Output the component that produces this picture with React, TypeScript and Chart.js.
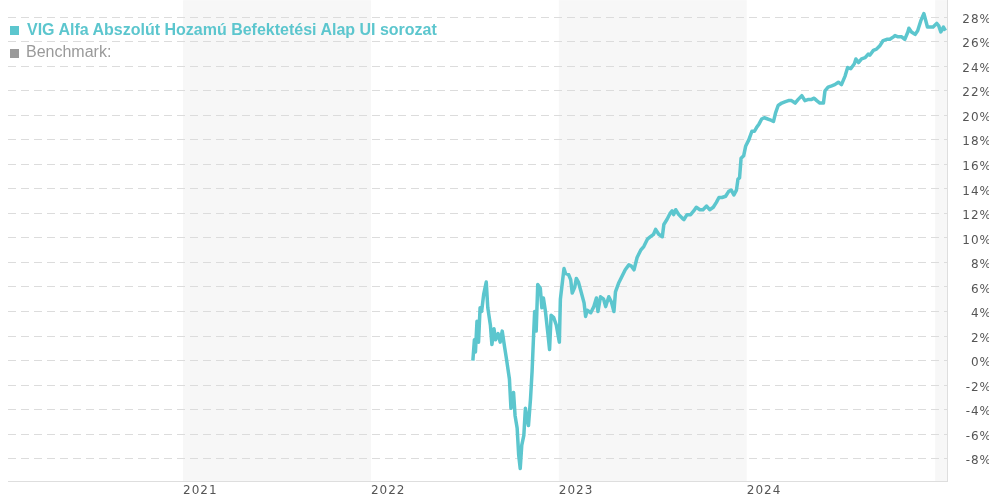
import React, { useEffect, useRef } from 'react';
import { Chart, registerables } from 'chart.js';

Chart.register(...registerables);

const FUND_LABEL = 'VIG Alfa Abszolút Hozamú Befektetési Alap UI sorozat';
const BENCHMARK_LABEL = 'Benchmark:';

const dates = [
  '2022-07-18','2022-07-21','2022-07-23','2022-07-26','2022-07-29','2022-08-01','2022-08-04','2022-08-08','2022-08-13','2022-08-16',
  '2022-08-21','2022-08-24','2022-08-28','2022-08-31','2022-09-05','2022-09-09','2022-09-13','2022-09-18','2022-09-21','2022-09-27',
  '2022-09-30','2022-10-05','2022-10-08','2022-10-12','2022-10-15','2022-10-18','2022-10-21','2022-10-25','2022-10-28','2022-10-31',
  '2022-11-03','2022-11-07','2022-11-10','2022-11-13','2022-11-15','2022-11-18','2022-11-21','2022-11-26','2022-11-29','2022-12-02',
  '2022-12-06','2022-12-11','2022-12-14','2022-12-17','2022-12-22','2022-12-27','2023-01-02',
  '2023-01-04','2023-01-11','2023-01-14','2023-01-20','2023-01-24','2023-01-27','2023-02-01','2023-02-04','2023-02-08','2023-02-12',
  '2023-02-19','2023-02-22','2023-02-25','2023-03-04','2023-03-10','2023-03-15','2023-03-18','2023-03-23','2023-03-29','2023-04-02',
  '2023-04-08','2023-04-13','2023-04-18','2023-04-21','2023-04-27','2023-05-04','2023-05-10','2023-05-17','2023-05-22','2023-05-27',
  '2023-06-02','2023-06-09','2023-06-15','2023-06-22','2023-06-28','2023-07-04','2023-07-08','2023-07-14','2023-07-21','2023-07-24',
  '2023-07-30','2023-08-05','2023-08-09','2023-08-12','2023-08-16','2023-08-22','2023-08-29','2023-09-01','2023-09-07','2023-09-14',
  '2023-09-20','2023-09-25','2023-10-02','2023-10-08','2023-10-15','2023-10-21','2023-10-28','2023-11-03','2023-11-08','2023-11-14',
  '2023-11-21','2023-11-27','2023-12-02','2023-12-07','2023-12-12','2023-12-15','2023-12-18','2023-12-21','2023-12-26','2023-12-30',
  '2024-01-05','2024-01-11','2024-01-16','2024-01-20','2024-01-25','2024-01-30','2024-02-04','2024-02-11','2024-02-17','2024-02-22',
  '2024-02-26','2024-03-02','2024-03-09','2024-03-15','2024-03-22','2024-03-28','2024-04-04','2024-04-10','2024-04-17','2024-04-23',
  '2024-04-30','2024-05-06','2024-05-11','2024-05-16','2024-05-22','2024-05-29','2024-06-01','2024-06-07','2024-06-14','2024-06-20',
  '2024-06-27','2024-07-03','2024-07-10','2024-07-15','2024-07-21','2024-07-28','2024-07-31','2024-08-05','2024-08-11','2024-08-18',
  '2024-08-24','2024-08-27','2024-09-03','2024-09-09','2024-09-16','2024-09-22','2024-09-29','2024-10-05','2024-10-12','2024-10-15',
  '2024-10-21','2024-10-28','2024-11-03','2024-11-09','2024-11-11','2024-11-16','2024-11-23','2024-11-28','2024-12-04','2024-12-10',
  '2024-12-12','2024-12-17','2024-12-22','2024-12-28','2025-01-04','2025-01-08','2025-01-12','2025-01-17','2025-01-21',
];

const fundReturns = [
  0.0, 1.7, 0.7, 3.2, 1.5, 4.3, 4.0, 5.4, 6.4, 4.3,
  2.9, 1.3, 2.6, 1.7, 2.2, 1.5, 2.4, 1.0, 0.2, -1.5,
  -3.9, -2.6, -4.5, -5.5, -7.7, -8.8, -6.9, -6.1, -3.9, -4.7,
  -5.3, -3.1, -0.9, 2.1, 4.0, 2.4, 6.2, 5.9, 4.3, 5.1,
  4.0, 2.1, 0.9, 3.7, 3.5, 2.9, 1.5,
  5.0, 7.5, 7.1, 7.0, 6.6, 5.5, 6.0, 6.7, 6.4, 5.8,
  4.7, 3.6, 4.1, 3.9, 4.4, 5.1, 4.0, 5.2, 5.0, 4.4,
  5.2, 4.8, 4.0, 5.6, 6.3, 6.9, 7.4, 7.8, 7.7, 7.4,
  8.4, 9.0, 9.3, 9.9, 10.1, 10.3, 10.7, 10.3, 10.1, 11.1,
  11.5, 12.0, 12.2, 11.9, 12.3, 11.9, 11.6, 11.5, 11.9, 11.9,
  12.2, 12.5, 12.3, 12.3, 12.6, 12.3, 12.5, 12.9, 13.3, 13.3,
  13.4, 13.8, 13.9, 13.5, 13.9, 14.8, 14.9, 16.5, 16.7, 17.5,
  18.0, 18.7, 18.7, 19.0, 19.3, 19.7, 19.8, 19.7, 19.6, 19.5,
  20.2, 20.8, 21.0, 21.1, 21.2, 21.2, 21.0, 21.3, 21.6, 21.2,
  21.3, 21.3, 21.4, 21.2, 21.0, 21.0, 22.0, 22.3, 22.4, 22.5,
  22.7, 22.5, 23.2, 23.9, 23.8, 24.2, 24.6, 24.3, 24.6, 24.7,
  25.0, 24.9, 25.3, 25.4, 25.7, 26.1, 26.2, 26.2, 26.4, 26.5,
  26.4, 26.4, 26.2, 26.8, 27.1, 26.8, 26.6, 26.9, 27.7, 28.3,
  28.0, 27.2, 27.2, 27.2, 27.5, 27.3, 26.8, 27.2, 26.9,
];

const yearTicks = [2021, 2022, 2023, 2024];
const shadedYears = [2021, 2023, 2025];
const yTicks = [-8, -6, -4, -2, 0, 2, 4, 6, 8, 10, 12, 14, 16, 18, 20, 22, 24, 26, 28];
const X_MIN_DATE = '2020-01-27';
const X_MAX_DATE = '2025-01-24';
const Y_MIN = -9.89;
const Y_MAX = 29.39;

const TEAL = '#5cc6ce';
const GRAY = '#9a9a9a';
const AXIS_FONT = '"DejaVu Sans", Verdana, sans-serif';
const LETTER_SPACING = '1px';

const toTs = (s: string) => Date.parse(s + 'T00:00:00Z');

const bandPlugin = {
  id: 'yearBands',
  beforeDraw(chart: any) {
    const { ctx, chartArea, scales } = chart;
    ctx.save();
    ctx.fillStyle = '#f7f7f7';
    shadedYears.forEach((y) => {
      const x0 = Math.max(scales.x.getPixelForValue(Date.UTC(y, 0, 1)), chartArea.left);
      const x1 = Math.min(scales.x.getPixelForValue(Date.UTC(y + 1, 0, 1)), chartArea.right);
      if (x1 > x0) ctx.fillRect(x0, chartArea.top, x1 - x0, chartArea.bottom - chartArea.top);
    });
    ctx.restore();
    ctx.letterSpacing = LETTER_SPACING;
  },
  beforeLayout(chart: any) {
    chart.ctx.letterSpacing = LETTER_SPACING;
  },
};

export default function App() {
  const canvasRef = useRef<HTMLCanvasElement | null>(null);

  useEffect(() => {
    if (!canvasRef.current) return;
    const chart = new Chart(canvasRef.current, {
      type: 'line',
      data: {
        datasets: [
          {
            label: FUND_LABEL,
            data: dates.map((d, i) => ({ x: toTs(d), y: fundReturns[i] })),
            borderColor: TEAL,
            backgroundColor: TEAL,
            borderWidth: 3.5,
            pointRadius: 0,
            tension: 0,
            borderJoinStyle: 'round',
          },
        ],
      },
      options: {
        animation: false,
        responsive: false,
        devicePixelRatio: 1,
        layout: { padding: 0 },
        plugins: { legend: { display: false }, tooltip: { enabled: false } },
        scales: {
          x: {
            type: 'linear',
            min: toTs(X_MIN_DATE),
            max: toTs(X_MAX_DATE),
            afterBuildTicks: (s: any) => {
              s.ticks = yearTicks.map((y) => ({ value: Date.UTC(y, 0, 1) }));
            },
            grid: { display: false, drawTicks: false },
            border: { display: true, color: '#dedede' },
            ticks: {
              align: 'start',
              padding: 2,
              autoSkip: false,
              maxRotation: 0,
              color: '#555',
              font: { family: AXIS_FONT, size: 12 },
              callback: (v: any) => String(new Date(Number(v)).getUTCFullYear()),
            },
          },
          y: {
            type: 'linear',
            position: 'right',
            min: Y_MIN,
            max: Y_MAX,
            afterBuildTicks: (s: any) => {
              s.ticks = yTicks.map((v) => ({ value: v }));
            },
            afterFit: (s: any) => {
              s.width = 45;
            },
            grid: { color: '#dcdcdc', lineWidth: 1, drawTicks: false },
            border: { display: true, color: '#dedede', dash: [8, 5] },
            ticks: {
              crossAlign: 'far',
              padding: 14,
              labelOffset: 2.5,
              color: '#555',
              font: { family: AXIS_FONT, size: 12 },
              callback: (v: any) => `${v}%`,
            },
          },
        },
      },
      plugins: [bandPlugin],
    } as any);
    return () => chart.destroy();
  }, []);

  return (
    <div
      style={{
        position: 'fixed',
        left: 0,
        top: 0,
        width: 989,
        height: 500,
        overflow: 'hidden',
        background: '#fff',
      }}
    >
      <div style={{ position: 'absolute', left: 8, top: -21, width: 984, height: 524 }}>
        <canvas ref={canvasRef} width={984} height={524} style={{ display: 'block', width: 984, height: 524 }} />
      </div>
      <div style={{ position: 'absolute', left: 10, top: 26, width: 9, height: 9, background: TEAL }} />
      <div
        style={{
          position: 'absolute',
          left: 27,
          top: 21,
          font: 'bold 16px "Liberation Sans", Arial, sans-serif',
          lineHeight: '18px',
          color: TEAL,
          whiteSpace: 'nowrap',
        }}
      >
        {FUND_LABEL}
      </div>
      <div style={{ position: 'absolute', left: 10, top: 49, width: 9, height: 9, background: GRAY }} />
      <div
        style={{
          position: 'absolute',
          left: 26,
          top: 43,
          font: '16px "Liberation Sans", Arial, sans-serif',
          lineHeight: '18px',
          color: GRAY,
          whiteSpace: 'nowrap',
        }}
      >
        {BENCHMARK_LABEL}
      </div>
    </div>
  );
}
